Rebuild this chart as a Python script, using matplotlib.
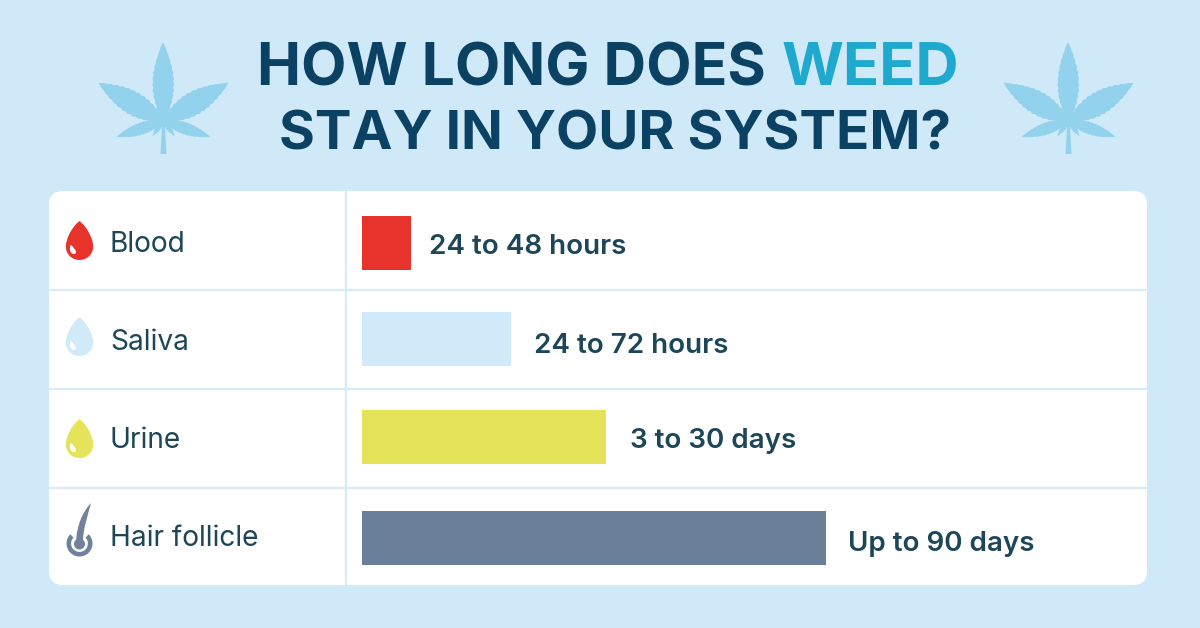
import numpy as np
import matplotlib
matplotlib.use("Agg")
import matplotlib.pyplot as plt
from matplotlib.patches import FancyBboxPatch, PathPatch, Wedge, Circle, Polygon
from matplotlib.path import Path

# Chart content
categories = ["Blood", "Saliva", "Urine", "Hair follicle"]
bar_lengths = [49, 149, 244, 464]
value_labels = ["24 to 48 hours", "24 to 72 hours", "3 to 30 days", "Up to 90 days"]
bar_colors = ["#e7332c", "#d1eafa", "#e5e35a", "#6a7f9a"]

W, H = 1200, 628
BG = "#cfe9f8"
NAVY = "#0b4264"
TEAL = "#1fa9cf"
INK = "#1d4659"
LINE = "#d8ebf6"
LEAF = "#92d2ec"

# Layout, in canvas pixels
BAR_LEFT = 362
BAR_HEIGHT = 54
bar_centers = [243, 339, 437, 538]
label_centers = [242, 340, 438, 536]
value_centers = [244, 343, 438, 541]
value_gaps = [18, 23, 24, 22]
rule_rows = [290, 389, 488]

fig = plt.figure(figsize=(W / 100, H / 100), dpi=100, facecolor=BG)
ax = fig.add_axes([0, 0, 1, 1])
ax.set_xlim(0, W)
ax.set_ylim(H, 0)
ax.axis("off")

# Card with table rules
ax.add_patch(FancyBboxPatch((49 + 14, 191 + 14), 1098 - 28, 394 - 28,
                            boxstyle="round,pad=14,rounding_size=14",
                            fc="white", ec="none", zorder=1))
for y in rule_rows:
    ax.plot([49, 1147], [y, y], color=LINE, lw=1.6, zorder=2, solid_capstyle="butt")
ax.plot([345.5, 345.5], [191, 585], color=LINE, lw=1.6, zorder=2, solid_capstyle="butt")


def leaflet(base, tip, half_width, teeth=13):
    """Serrated lance-shaped leaflet running from base to tip."""
    base, tip = np.array(base, float), np.array(tip, float)
    axis = tip - base
    normal = np.array([-axis[1], axis[0]]) / np.hypot(*axis)
    t = np.linspace(0, 1, teeth * 2 + 1)
    profile = half_width * np.sin(np.pi * t ** 0.9) ** 0.9
    profile = profile * (1 + 0.05 * (-1) ** np.arange(t.size))
    side_a = base + np.outer(t, axis) + np.outer(profile, normal)
    side_b = base + np.outer(t, axis) - np.outer(profile, normal)
    return np.vstack([side_a, side_b[::-1]])


def cannabis_leaf(cx):
    base = (cx, 121)
    tips = [((cx - 0.5, 42), 10.5), ((cx - 65, 83), 11.5), ((cx + 65, 83), 11.5),
            ((cx - 47, 137), 6), ((cx + 47, 137), 6),
            ((cx - 11, 136), 2.4), ((cx + 11, 136), 2.4)]
    for tip, half_width in tips:
        ax.add_patch(Polygon(leaflet(base, tip, half_width), closed=True,
                             fc=LEAF, ec="none", zorder=1))
    ax.add_patch(Polygon([(cx - 1, 118), (cx + 1, 118), (cx + 3, 154), (cx - 3, 154)],
                         closed=True, fc=LEAF, ec="none", zorder=1))


cannabis_leaf(163.5)
cannabis_leaf(1068.5)


def drop(cx, top, bottom, half_width, color, lean=0.0, zorder=3):
    """Teardrop outline; round belly at the bottom, point at the top."""
    h = bottom - top
    belly = bottom - half_width
    verts = [(cx, top),
             (cx + half_width * 0.7, top + h * 0.2), (cx + half_width, belly - h * 0.14), (cx + half_width, belly),
             (cx + half_width, bottom - half_width * 0.42), (cx + half_width * 0.55, bottom), (cx, bottom),
             (cx - half_width * 0.55, bottom), (cx - half_width, bottom - half_width * 0.42), (cx - half_width, belly),
             (cx - half_width, belly - h * 0.14), (cx - half_width * 0.7, top + h * 0.2), (cx, top)]
    verts = [(x + lean * (bottom - y), y) for x, y in verts]
    codes = [Path.MOVETO] + [Path.CURVE4] * 12
    ax.add_patch(PathPatch(Path(verts, codes), fc=color, ec="none", zorder=zorder))


for top, color in zip([221, 317, 419], bar_colors[:3]):
    drop(79.5, top, top + 39, 13.7, color)
    drop(74, top + 24, top + 33, 2.8, "white", lean=-0.35, zorder=4)

# Hair follicle icon
HAIR = "#6f8299"
ax.add_patch(Wedge((79.5, 543.5), 13, 315, 585, width=4.6, fc=HAIR, ec="none", zorder=3))
ax.add_patch(Circle((79.5, 544), 5.5, fc=HAIR, ec="none", zorder=3))
shaft = Path([(76, 542), (77, 525), (82, 513), (91, 503),
              (88, 515), (83, 528), (83, 542), (76, 542)],
             [Path.MOVETO, Path.CURVE4, Path.CURVE4, Path.CURVE4,
              Path.CURVE4, Path.CURVE4, Path.CURVE4, Path.LINETO])
ax.add_patch(PathPatch(shaft, fc=HAIR, ec="none", zorder=3))

# Bars and their labels
ax.barh(bar_centers, bar_lengths, left=BAR_LEFT, height=BAR_HEIGHT,
        color=bar_colors, edgecolor="none", zorder=3)
for name, length, label, ly, vy, gap in zip(categories, bar_lengths, value_labels,
                                            label_centers, value_centers, value_gaps):
    ax.text(110, ly, name, family="Inter", fontsize=20.2, color=INK,
            va="center_baseline", ha="left", zorder=5)
    ax.text(BAR_LEFT + length + gap, vy, label, family="Inter", fontsize=20,
            fontweight="semibold", color=INK, va="center_baseline", ha="left", zorder=5)

# Two-line title with one highlighted word
kw = dict(family="Inter", fontweight="bold", va="baseline", ha="left", zorder=5)
ax.text(257, 85, "HOW LONG DOES", color=NAVY, fontsize=42.4, **kw)
ax.text(782, 85, "WEED", color=TEAL, fontsize=43, **kw)
ax.text(279, 150, "STAY IN YOUR SYSTEM?", color=NAVY, fontsize=39.5, **kw)

fig.savefig("out.png", dpi=100, facecolor=BG)
